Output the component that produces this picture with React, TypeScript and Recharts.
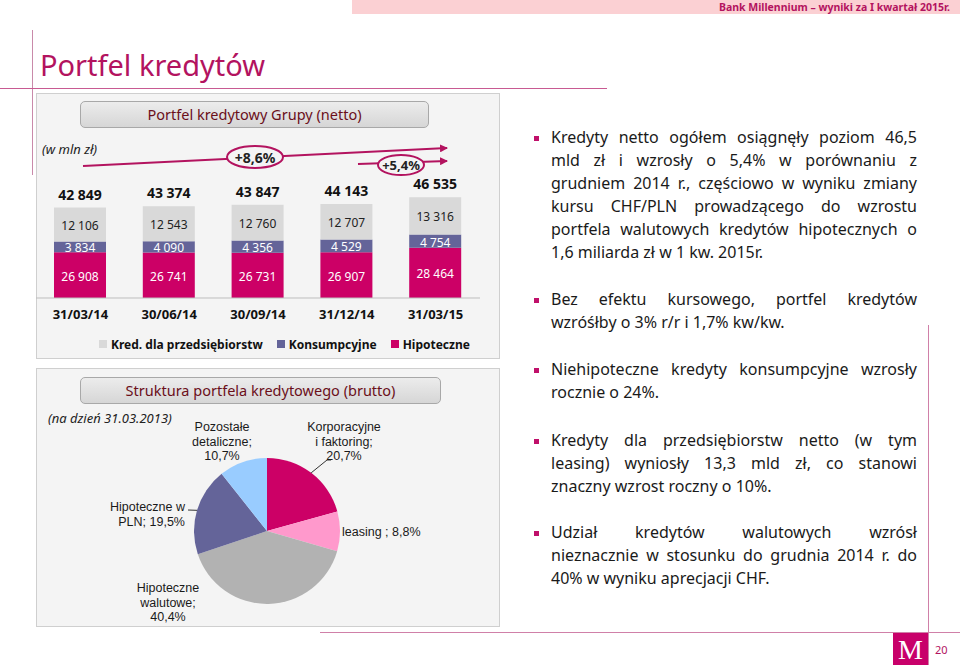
import React from 'react'
import {
  BarChart,
  Bar,
  XAxis,
  YAxis,
  Legend,
  LabelList,
  PieChart,
  Pie,
  Cell
} from 'recharts'

// --- data ---
const DATES = ['31/03/14', '30/06/14', '30/09/14', '31/12/14', '31/03/15']
const HIPOTECZNE = [26908, 26741, 26731, 26907, 28464]
const KONSUMPCYJNE = [3834, 4090, 4356, 4529, 4754]
const PRZEDSIEBIORSTWA = [12106, 12543, 12760, 12707, 13316]
const TOTALS = [42849, 43374, 43847, 44143, 46535]

const PIE_NAMES = [
  'Korporacyjne i faktoring',
  'leasing ',
  'Hipoteczne walutowe',
  'Hipoteczne w PLN',
  'Pozostałe detaliczne'
]
const PIE_VALUES = [20.7, 8.8, 40.4, 19.5, 10.7]

const BULLETS = [
  [
    'Kredyty netto ogółem osiągnęły poziom 46,5',
    'mld zł i wzrosły o 5,4% w porównaniu z',
    'grudniem 2014 r., częściowo w wyniku zmiany',
    'kursu CHF/PLN prowadzącego do wzrostu',
    'portfela walutowych kredytów hipotecznych o',
    '1,6 miliarda zł w 1 kw. 2015r.'
  ],
  ['Bez efektu kursowego, portfel kredytów', 'wzróśłby o 3% r/r i 1,7% kw/kw.'],
  ['Niehipoteczne kredyty konsumpcyjne wzrosły', 'rocznie o 24%.'],
  [
    'Kredyty dla przedsiębiorstw netto (w tym',
    'leasing) wyniosły 13,3 mld zł, co stanowi',
    'znaczny wzrost roczny o 10%.'
  ],
  [
    'Udział kredytów walutowych wzrósł',
    'nieznacznie w stosunku do grudnia 2014 r. do',
    '40% w wyniku aprecjacji CHF.'
  ]
]

// --- styles ---
const FONT = "'Noto Sans', sans-serif"
const LABEL_FONT = "'Liberation Sans', sans-serif"
const MAGENTA = '#cc0066'
const SLATE = '#646499'
const LIGHT = '#d9d9d9'
const ACCENT = '#b3135f'
const PIE_COLORS = [MAGENTA, '#ff99cc', '#b2b2b2', SLATE, '#99ccff']

// word counts per label line, and label anchor relative to pie centre
const PIE_LABEL_LAYOUT = [
  { words: [1, 2, 1], dx: 77, dy: -104, anchor: 'middle', leader: [60, -71, 64] },
  { words: [3], dx: 75, dy: 1, anchor: 'start' },
  { words: [1, 1, 1], dx: -99, dy: 57, anchor: 'middle' },
  { words: [2, 2], dx: -82, dy: -24, anchor: 'end', leader: [-79, -21, -79] },
  { words: [1, 1, 1], dx: -45, dy: -104, anchor: 'middle' }
]

const BULLET_TOPS = [126, 288, 358, 429, 521]

const barData = DATES.map((date, i) => ({
  date,
  hip: HIPOTECZNE[i],
  kons: KONSUMPCYJNE[i],
  przed: PRZEDSIEBIORSTWA[i],
  total: TOTALS[i]
}))

const pieData = PIE_NAMES.map((name, i) => ({ name, value: PIE_VALUES[i] }))

const fmt = (v: number) => String(v).replace(/\B(?=(\d{3})+(?!\d))/g, ' ')
const pct = (v: number) => v.toFixed(1).replace('.', ',') + '%'

const BAR_MARGIN = { top: 56, right: 0, bottom: 4, left: 0 }
const PLOT_BOTTOM = 56 + 102

const segmentLabel = (color: string) => (props: any) => {
  const vb = props.viewBox || props
  const x = vb.x
  const y = vb.y
  const w = vb.width
  const h = vb.height
  const bottom = Math.min(y + h, PLOT_BOTTOM)
  return (
    <text
      x={x + w / 2}
      y={(y + bottom) / 2 + 1}
      textAnchor="middle"
      dominantBaseline="central"
      fill={color}
      fontSize={12}
      fontFamily={FONT}
    >
      {fmt(props.value)}
    </text>
  )
}

const renderLegend = (props: any) => {
  const items = [...(props.payload || [])].reverse()
  return (
    <div
      style={{
        height: 20,
        display: 'flex',
        alignItems: 'center',
        paddingLeft: 63,
        gap: 14,
        fontFamily: FONT,
        fontSize: 12,
        fontWeight: 'bold',
        color: '#111',
        whiteSpace: 'nowrap'
      }}
    >
      {items.map((it: any) => (
        <span key={it.value} style={{ display: 'flex', alignItems: 'center', flexShrink: 0 }}>
          <span style={{ width: 8, height: 8, background: it.color, marginRight: 4 }} />
          {it.value}
        </span>
      ))}
    </div>
  )
}

const renderPieLabel = (props: any) => {
  const { cx, cy, midAngle, outerRadius, index, name, value } = props
  const lay = PIE_LABEL_LAYOUT[index]
  const words = `${name}; ${pct(value)}`.split(/\s+/).filter(Boolean)
  const lines: string[] = []
  let k = 0
  lay.words.forEach((n) => {
    lines.push(words.slice(k, k + n).join(' '))
    k += n
  })
  const rad = (-midAngle * Math.PI) / 180
  const px = cx + outerRadius * Math.cos(rad)
  const py = cy + outerRadius * Math.sin(rad)
  return (
    <g>
      {lay.leader && (
        <polyline
          points={`${px},${py} ${cx + lay.leader[0]},${cy + lay.leader[1]} ${cx + lay.leader[2]},${cy + lay.leader[1]}`}
          fill="none"
          stroke="#333"
          strokeWidth={1}
        />
      )}
      {lines.map((l, i) => (
        <text
          key={i}
          x={cx + lay.dx}
          y={cy + lay.dy + i * 14.6}
          textAnchor={lay.anchor}
          dominantBaseline="central"
          fill="#1a1a1a"
          fontSize={12.5}
          fontFamily={LABEL_FONT}
        >
          {l}
        </text>
      ))}
    </g>
  )
}

const pill: React.CSSProperties = {
  position: 'absolute',
  left: 80,
  height: 25,
  border: '1px solid #a8a8a8',
  borderRadius: 5,
  background: 'linear-gradient(#ececec, #d6d6d6)',
  color: '#6b0f1a',
  fontSize: 14.5,
  textAlign: 'center',
  lineHeight: '25px'
}

const panel: React.CSSProperties = {
  position: 'absolute',
  left: 36,
  width: 462,
  background: '#f4f4f4',
  border: '1px solid #cfcfcf'
}

export default function App() {
  return (
    <div
      style={{
        position: 'absolute',
        left: 0,
        top: 0,
        width: 960,
        height: 665,
        background: '#fff',
        fontFamily: FONT,
        overflow: 'hidden'
      }}
    >
      {/* header band */}
      <div style={{ position: 'absolute', left: 352, top: 0, width: 608, height: 14, background: '#fbd0d3' }} />
      <div
        style={{
          position: 'absolute',
          right: 10,
          top: 0,
          height: 15,
          lineHeight: '15px',
          fontSize: 10.5,
          fontWeight: 'bold',
          color: ACCENT
        }}
      >
        Bank Millennium – wyniki za I kwartał 2015r.
      </div>

      {/* frame lines */}
      <div style={{ position: 'absolute', left: 32, top: 30, width: 1, height: 145, background: '#c98aaa' }} />
      <div style={{ position: 'absolute', left: 0, top: 88, width: 607, height: 1, background: '#c85a92' }} />
      <div style={{ position: 'absolute', left: 320, top: 632, width: 640, height: 1, background: '#d080a8' }} />
      <div style={{ position: 'absolute', left: 928, top: 325, width: 1, height: 340, background: '#d080a8' }} />

      <div style={{ position: 'absolute', left: 40, top: 45, fontSize: 29, color: ACCENT, lineHeight: '40px' }}>
        Portfel kredytów
      </div>

      {/* panel 1 */}
      <div style={{ ...panel, top: 93, height: 264 }} />
      <div style={{ ...pill, top: 101, width: 347 }}>Portfel kredytowy Grupy (netto)</div>
      <div style={{ position: 'absolute', left: 42, top: 140, fontSize: 13, fontStyle: 'italic', color: '#222' }}>
        (w mln zł)
      </div>

      <div style={{ position: 'absolute', left: 36, top: 140 }}>
        <BarChart width={444} height={218} data={barData} margin={BAR_MARGIN}>
          <XAxis
            dataKey="date"
            tickLine={false}
            axisLine={{ stroke: '#bdbdbd' }}
            tick={{ fontSize: 13, fontWeight: 'bold', fill: '#111', fontFamily: FONT }}
            tickMargin={6}
            height={36}
            interval={0}
          />
          <YAxis hide domain={[10500, 47000]} allowDataOverflow />
          <Legend verticalAlign="bottom" content={renderLegend} />
          <Bar dataKey="hip" name="Hipoteczne" stackId="a" fill={MAGENTA} barSize={52} isAnimationActive={false}>
            <LabelList dataKey="hip" content={segmentLabel('#fff')} />
          </Bar>
          <Bar dataKey="kons" name="Konsumpcyjne" stackId="a" fill={SLATE} barSize={52} isAnimationActive={false}>
            <LabelList dataKey="kons" content={segmentLabel('#fff')} />
          </Bar>
          <Bar
            dataKey="przed"
            name="Kred. dla przedsiębiorstw"
            stackId="a"
            fill={LIGHT}
            barSize={52}
            isAnimationActive={false}
          >
            <LabelList dataKey="przed" content={segmentLabel('#222')} />
            <LabelList
              dataKey="total"
              position="top"
              offset={8}
              formatter={(v: any) => fmt(Number(v))}
              style={{ fontSize: 14, fontWeight: 'bold', fill: '#111', fontFamily: FONT }}
            />
          </Bar>
        </BarChart>
      </div>

      {/* growth arrows */}
      <svg width={960} height={665} style={{ position: 'absolute', left: 0, top: 0, pointerEvents: 'none' }}>
        <defs>
          <marker id="ah" markerWidth="8" markerHeight="8" refX="7" refY="4" orient="auto" markerUnits="userSpaceOnUse">
            <path d="M0,0 L8,4 L0,8 Z" fill={ACCENT} />
          </marker>
        </defs>
        <line x1={83} y1={166} x2={447} y2={148} stroke={ACCENT} strokeWidth={2} markerEnd="url(#ah)" />
        <ellipse cx={255} cy={157} rx={28} ry={11} fill="#f4f4f4" stroke={ACCENT} strokeWidth={2} />
        <text x={255} y={157} textAnchor="middle" dominantBaseline="central" fontSize={14} fontWeight="bold" fill="#222" fontFamily={FONT}>
          +8,6%
        </text>
        <line x1={358} y1={164} x2={447} y2={161} stroke={ACCENT} strokeWidth={2} markerEnd="url(#ah)" />
        <ellipse cx={401} cy={165} rx={23} ry={10} fill="#f4f4f4" stroke={ACCENT} strokeWidth={2} />
        <text x={401} y={165} textAnchor="middle" dominantBaseline="central" fontSize={13} fontWeight="bold" fill="#222" fontFamily={FONT}>
          +5,4%
        </text>
      </svg>

      {/* panel 2 */}
      <div style={{ ...panel, top: 368, height: 257 }} />
      <div style={{ ...pill, top: 377, width: 359 }}>Struktura portfela kredytowego (brutto)</div>
      <div style={{ position: 'absolute', left: 48, top: 409, fontSize: 13, fontStyle: 'italic', color: '#222' }}>
        (na dzień 31.03.2013)
      </div>
      <div style={{ position: 'absolute', left: 36, top: 368 }}>
        <PieChart width={463} height={257}>
          <Pie
            data={pieData}
            dataKey="value"
            nameKey="name"
            cx={226}
            cy={158}
            outerRadius={73}
            startAngle={90}
            endAngle={-270}
            stroke="none"
            labelLine={false}
            label={renderPieLabel}
            isAnimationActive={false}
          >
            {pieData.map((d, i) => (
              <Cell key={d.name} fill={PIE_COLORS[i]} />
            ))}
          </Pie>
        </PieChart>
      </div>

      {/* bullets */}
      {BULLETS.map((lines, b) => (
        <div key={b} style={{ position: 'absolute', left: 551, top: BULLET_TOPS[b], width: 366 }}>
          <div style={{ position: 'absolute', left: -17, top: 10, width: 5, height: 5, background: '#c0106a' }} />
          {lines.map((l, i) => (
            <div
              key={i}
              style={{
                fontSize: 16,
                lineHeight: '23px',
                color: '#1a1a1a',
                whiteSpace: 'nowrap',
                textAlign: 'justify',
                textAlignLast: i < lines.length - 1 ? 'justify' : 'left'
              }}
            >
              {l}
            </div>
          ))}
        </div>
      ))}

      {/* logo & page number */}
      <div
        style={{
          position: 'absolute',
          left: 893,
          top: 633,
          width: 35,
          height: 32,
          background: '#c8006a'
        }}
      />
      <div
        style={{
          position: 'absolute',
          left: 893,
          top: 635,
          width: 35,
          color: '#fff',
          fontFamily: "'Liberation Serif', serif",
          fontSize: 28,
          lineHeight: '30px',
          textAlign: 'center'
        }}
      >
        M
      </div>
      <div style={{ position: 'absolute', left: 935, top: 642, fontSize: 11, color: ACCENT }}>20</div>
    </div>
  )
}
